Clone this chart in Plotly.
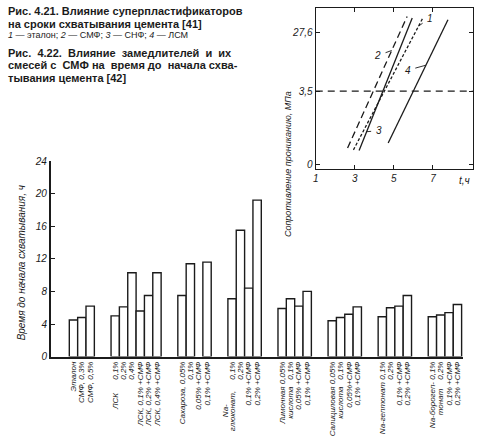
import math
import plotly.graph_objects as go

NB = "\u00a0"


def pad(a, b, n):
    # Name at the bottom, percentage at the top of the vertical label
    return a + NB * n + b


# Рис. 4.22: time to initial set, h
etalon = [4.5, 4.8, 6.2]
lsk = [5.0, 6.1, 10.3, 5.6, 7.5, 10.3]
sugar = [7.5, 11.4, None, 11.6]
gluconate = [7.1, 15.5, 8.4, 19.2]
citric = [5.9, 7.1, 6.2, 8.0]
salicylic = [4.4, 4.8, 5.2, 6.1]
heptonate = [4.9, 6.0, 6.2, 7.5]
boroheptonate = [4.9, 5.1, 5.4, 6.4]

etalon_labels = ["Эталон", "СМФ, 0,3%", "СМФ, 0,5%"]
lsk_labels = [pad("ЛСК", "0,1%", 6), "0,2%", "0,4%",
              "ЛСК, 0,1% +СМФ", "ЛСК, 0,2% +СМФ", "ЛСК, 0,4% +СМФ"]
sugar_labels = [pad("Сахароза,", "0,05%", 1), "0,1%", "0,05% +СМФ", "0,1% +СМФ"]
gluconate_labels = [pad("глюконат,", "0,1%", 5), "0,2%", "0,1% +СМФ", "0,2% +СМФ"]
gluconate_prefix = "Na-"
citric_labels = [pad("Лимонная", "0,05%", 1), pad("кислота", "0,1%", 3),
                 "0,05% +СМФ", "0,1% +СМФ"]
salicylic_labels = [pad("Салициловая", "0,05%", 1), pad("кислота", "0,1%", 3),
                    "0,05%+СМФ", "0,1% +СМФ"]
heptonate_labels = [pad("Na-гептонат", "0,1%", 1), "0,2%", "0,1% +СМФ", "0,2% +СМФ"]
boroheptonate_labels = [pad("Na-борогеп-", "0,1%", 1), pad("тонат", "0,2%", 4),
                        "0,1% +СМФ", "0,2% +СМФ"]

y_ticks = [0, 4, 8, 12, 16, 20, 24]

# Рис. 4.21: penetration resistance vs time (ends of each line)
set_names = ["1", "2", "3", "4"]        # 1 эталон, 2 СМФ, 3 СНФ, 4 ЛСМ
t_low = [2.93, 2.63, 3.22, 4.71]
t_high = [6.50, 5.68, 5.94, 7.77]
p_low = [0.44, 0.47, 0.43, 0.56]
p_high = [47.2, 48.9, 46.2, 43.6]
set_dash = ["3px,2px", "7px,4px", "solid", "solid"]
initial_set = 3.5
t_ticks = [1, 3, 5, 7]
p_ticks = [0.265, 3.5, 27.6]
p_ticktext = ["0", "3,5", "27,6"]

INK = "#1b1b1b"
W, H = 482, 446

value_groups = [etalon, lsk, sugar, gluconate, citric, salicylic, heptonate, boroheptonate]
label_groups = [etalon_labels, lsk_labels, sugar_labels, gluconate_labels, citric_labels,
                salicylic_labels, heptonate_labels, boroheptonate_labels]

xs, ys, texts = [], [], []
group_start = []
pos = 0
for vals, labs in zip(value_groups, label_groups):
    group_start.append(pos)
    for v, lab in zip(vals, labs):
        xs.append(pos + 0.5)
        ys.append(v)
        texts.append(lab)
        pos += 1
    pos += 2

fig = go.Figure()

fig.add_trace(go.Bar(
    x=xs, y=ys, width=1,
    marker=dict(color="white", line=dict(color=INK, width=1.4)),
    xaxis="x", yaxis="y", showlegend=False,
))

fig.add_trace(go.Scatter(
    x=[1, 9.04], y=[initial_set, initial_set], mode="lines",
    line=dict(color=INK, width=1.2, dash="7px,5px"),
    xaxis="x2", yaxis="y2", showlegend=False,
))

for i in range(len(set_names)):
    fig.add_trace(go.Scatter(
        x=[t_low[i], t_high[i]], y=[p_low[i], p_high[i]], mode="lines",
        line=dict(color=INK, width=1.3, dash=set_dash[i]),
        xaxis="x2", yaxis="y2", showlegend=False,
    ))

# curve numbers with leader lines
label_frac = [0.934, 0.741, 0.142, 0.631]
label_off = [(11, -8), (-14, 5), (12, -1), (-18, 5)]
for i, name in enumerate(set_names):
    f = label_frac[i]
    t = t_low[i] + f * (t_high[i] - t_low[i])
    lp = math.log10(p_low[i]) + f * (math.log10(p_high[i]) - math.log10(p_low[i]))
    fig.add_annotation(
        x=t, y=lp, xref="x2", yref="y2", text=name,
        showarrow=True, arrowhead=0, arrowwidth=0.9, arrowcolor=INK,
        ax=label_off[i][0], ay=label_off[i][1], standoff=0, startstandoff=3,
        font=dict(size=10, style="italic", color=INK),
    )

# first line of the two-line "Na-/глюконат" label
fig.add_annotation(x=group_start[3] - 0.3, y=1 - 416 / H, xref="x", yref="paper",
                   text=gluconate_prefix, textangle=-90, showarrow=False,
                   xanchor="center", yanchor="middle",
                   font=dict(size=8, style="italic", color=INK))

fig.add_annotation(x=464 / W, y=1 - 180 / H, xref="paper", yref="paper",
                   text="t,ч", showarrow=False, xanchor="center",
                   font=dict(size=10, style="italic", color=INK))
fig.add_annotation(x=287 / W, y=1 - 86 / H, xref="paper", yref="paper",
                   text="Сопротивление проникaнию, МПа", textangle=-90,
                   showarrow=False, xanchor="center",
                   font=dict(size=9, style="italic", color=INK))
fig.add_annotation(x=19 / W, y=1 - 264 / H, xref="paper", yref="paper",
                   text="Время до начала схватывания, ч", textangle=-90,
                   showarrow=False, xanchor="center",
                   font=dict(size=10, style="italic", color=INK))

# caption text (extra spaces imitate the justified lines)
S2 = NB * 2
captions = [
    ("Рис. 4.21. Влияние суперпластификаторов", 6, 11, "bold"),
    ("на сроки схватывания цемента [41]", 19, 11, "bold"),
    ("<i>1</i> — эталон; <i>2</i> — СМФ; <i>3</i> — СНФ; <i>4</i> — ЛСМ", 31, 9, "normal"),
    ("Рис." + S2 + "4.22." + S2 + "Влияние" + S2 + "замедлителей" + S2 + "и" + S2 + "их",
     49, 11, "bold"),
    ("смесей с" + NB + " СМФ на" + NB + " время до" + NB + " начала схва-", 62, 11, "bold"),
    ("тывания цемента [42]", 75, 11, "bold"),
]
for txt, yy, size, weight in captions:
    fig.add_annotation(x=3 / W, y=1 - yy / H, xref="paper", yref="paper",
                       text=txt, showarrow=False, xanchor="left", yanchor="middle",
                       font=dict(size=size, weight=weight, color=INK))

axis_font = dict(size=10, style="italic", color=INK)

fig.update_layout(
    width=W, height=H,
    margin=dict(l=0, r=0, t=0, b=0),
    paper_bgcolor="white", plot_bgcolor="white",
    hovermode=False,
    font=dict(family="Liberation Sans, Arial, sans-serif", color=INK),
    xaxis=dict(
        domain=[48 / W, 463 / W], range=[-2.23, 47.18],
        tickmode="array", tickvals=xs, ticktext=texts, tickangle=-90,
        tickfont=dict(size=8, style="italic", color=INK),
        ticks="", showline=True, linecolor=INK, linewidth=1.5,
        showgrid=False, zeroline=False, fixedrange=True,
    ),
    yaxis=dict(
        domain=[1 - 360.5 / H, 1 - 160 / H], range=[0, 24],
        tickmode="array", tickvals=y_ticks, tickfont=axis_font,
        ticks="inside", ticklen=5, tickcolor=INK,
        showline=True, linecolor=INK, linewidth=1.5,
        showgrid=False, zeroline=False,
    ),
    xaxis2=dict(
        domain=[314.7 / W, 472.7 / W], range=[1, 9.04], anchor="y2",
        tickmode="array", tickvals=t_ticks, tickfont=axis_font,
        ticks="inside", ticklen=4, tickcolor=INK, mirror="ticks",
        showline=True, linecolor=INK, linewidth=1.3,
        showgrid=False, zeroline=False,
    ),
    yaxis2=dict(
        domain=[1 - 168.3 / H, 1 - 3.3 / H], type="log", range=[-0.652, 1.815],
        anchor="x2", tickmode="array", tickvals=p_ticks, ticktext=p_ticktext,
        tickfont=axis_font, ticks="inside", ticklen=4, tickcolor=INK, mirror="ticks",
        showline=True, linecolor=INK, linewidth=1.3,
        showgrid=False, zeroline=False,
    ),
)

# the page body has an 8px default margin; drop it so the figure sits at 0,0
fig.write_html("out.html", config={"displayModeBar": False},
               post_script="document.body.style.margin='0';")
